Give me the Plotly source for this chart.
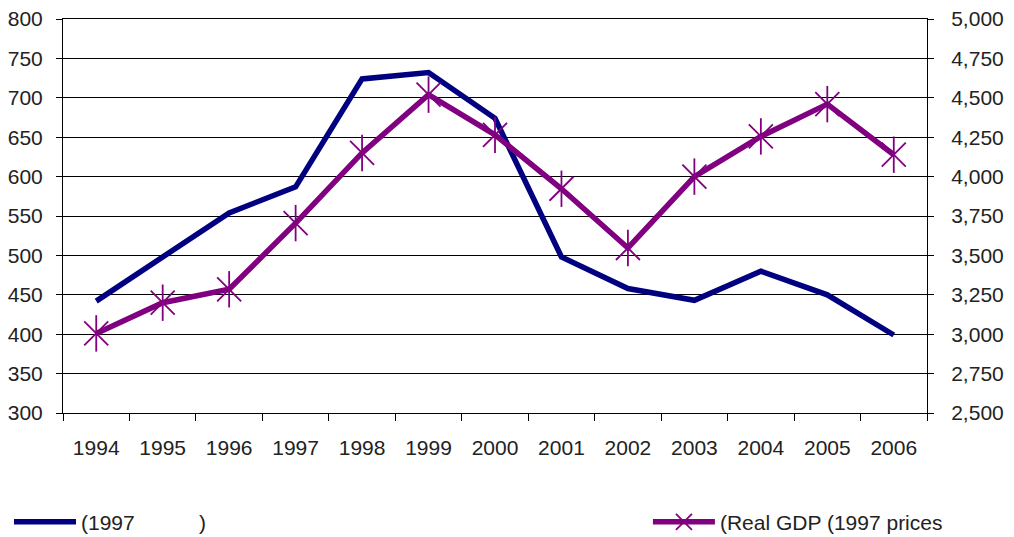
import plotly.graph_objects as go

years = ["1994", "1995", "1996", "1997", "1998", "1999", "2000",
         "2001", "2002", "2003", "2004", "2005", "2006"]
index_1997 = [442, 498, 554, 587, 724, 732, 674, 498, 458, 443, 480, 450, 399]
real_gdp = [3005, 3200, 3285, 3705, 4150, 4520, 4265, 3923, 3547, 4000, 4255, 4460, 4139]

name_left = "(1997" + "\u00a0" * 11 + ")"
name_right = "(Real GDP (1997 prices"

NAVY = "#000080"
PURPLE = "#800080"
FONT = "Liberation Sans"
FS = 21

fig = go.Figure()
fig.add_trace(go.Scatter(
    x=years, y=index_1997, name=name_left, mode="lines",
    line=dict(color=NAVY, width=5.5), yaxis="y", legend="legend"))
fig.add_trace(go.Scatter(
    x=years, y=real_gdp, name=name_right, mode="lines+markers",
    line=dict(color=PURPLE, width=5.5),
    marker=dict(symbol="x-thin-open", size=24, color=PURPLE,
                line=dict(color=PURPLE, width=1.8)),
    yaxis="y2", legend="legend2"))
fig.add_trace(go.Scatter(
    x=years, y=real_gdp, mode="markers", showlegend=False, hoverinfo="skip",
    marker=dict(symbol="line-ns-open", size=26, color=PURPLE,
                line=dict(color=PURPLE, width=1.8)),
    yaxis="y2"))

legend_common = dict(orientation="h", yanchor="middle", y=-0.277, xanchor="left",
                     itemwidth=62, font=dict(family=FONT, size=FS, color="#222222"),
                     bgcolor="rgba(0,0,0,0)")

fig.update_layout(
    width=1006, height=529,
    margin=dict(l=55, r=87, t=11, b=124, autoexpand=False),
    paper_bgcolor="white", plot_bgcolor="white",
    font=dict(family=FONT, size=FS, color="#222222"),
    xaxis=dict(type="category", range=[-0.5, 12.5], tickson="boundaries",
               ticks="outside", ticklen=7,
               tickcolor="black", showline=True, linecolor="black", linewidth=1,
               mirror=True, showgrid=False, ticklabelstandoff=16, automargin=False,
               tickfont=dict(family=FONT, size=FS, color="#222222")),
    yaxis=dict(range=[300, 800], dtick=50, ticks="outside", ticklen=6, tickcolor="black",
               showline=True, linecolor="black", linewidth=1, showgrid=True,
               gridcolor="black", gridwidth=1, zeroline=False, ticklabelstandoff=9,
               automargin=False, ticklabeloverflow="allow",
               tickfont=dict(family=FONT, size=FS, color="#222222")),
    yaxis2=dict(range=[2500, 5000], dtick=250, overlaying="y", side="right",
                ticks="outside", ticklen=6, tickcolor="black", showline=True,
                linecolor="black", linewidth=1, showgrid=False, zeroline=False,
                tickformat=",", ticklabelstandoff=13, automargin=False,
                ticklabeloverflow="allow",
                tickfont=dict(family=FONT, size=FS, color="#222222")),
    legend=dict(x=-0.0625, **legend_common),
    legend2=dict(x=0.677, **legend_common),
    showlegend=True,
)

fig.write_html("out.html")
